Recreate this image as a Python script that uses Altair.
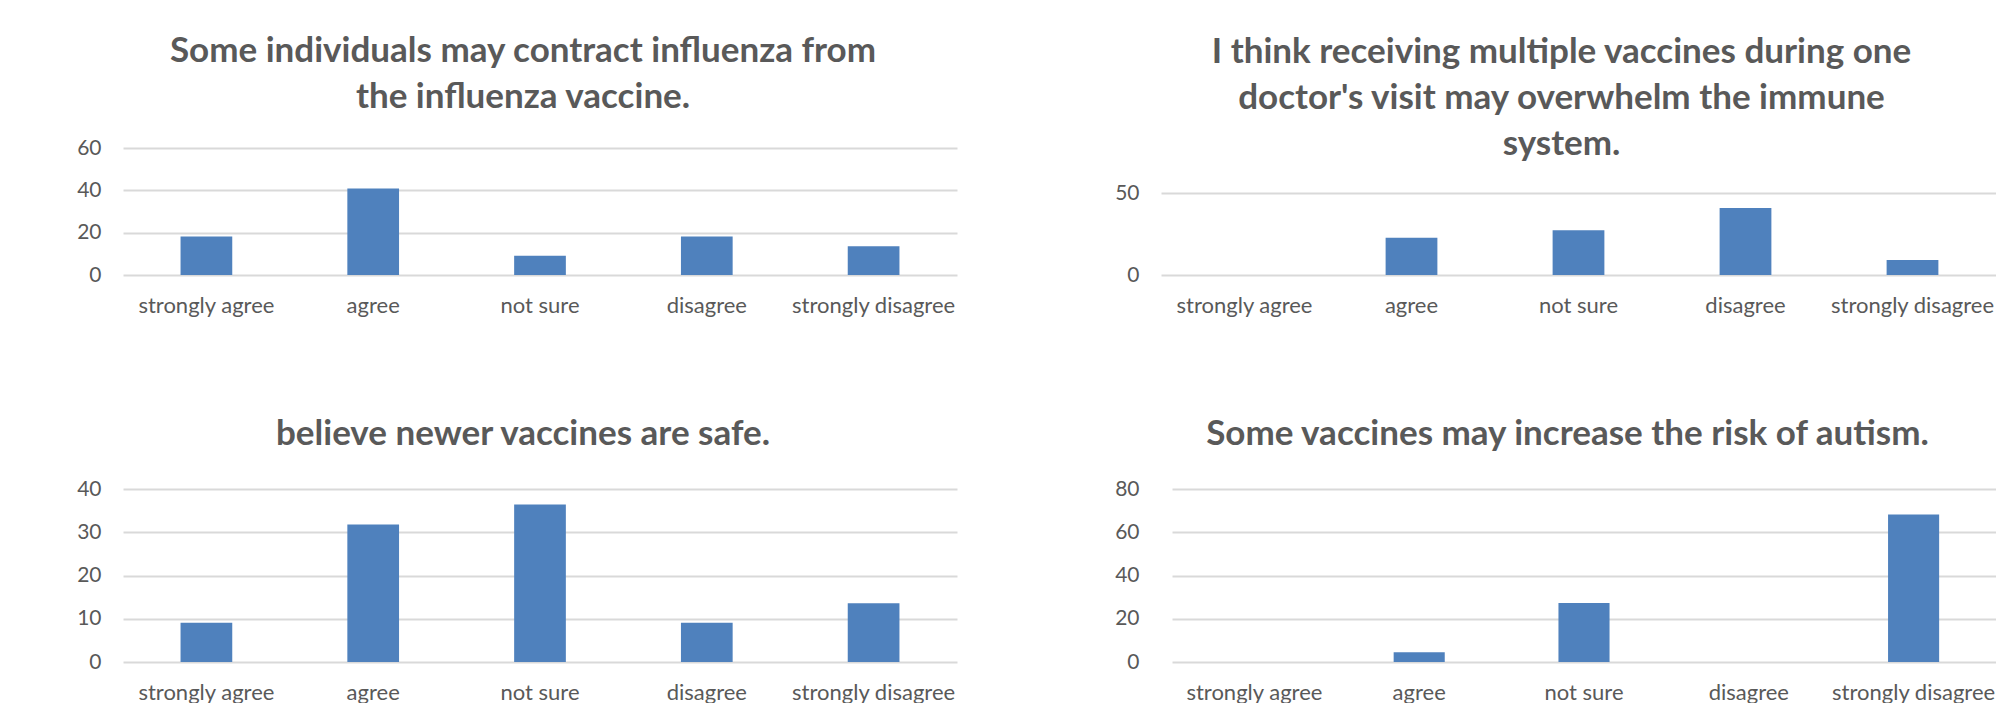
import altair as alt
import pandas as pd

categories = ["strongly agree", "agree", "not sure", "disagree", "strongly disagree"]

values_flu = [18.2, 40.9, 9.1, 18.2, 13.6]
values_multi = [0.0, 22.7, 27.3, 40.9, 9.1]
values_newer = [9.1, 31.8, 36.4, 9.1, 13.6]
values_autism = [0.0, 4.5, 27.3, 0.0, 68.2]

title_flu = ["Some individuals may contract influenza from", "the influenza vaccine."]
title_multi = ["I think receiving multiple vaccines during one",
               "doctor's visit may overwhelm the immune", "system."]
title_newer = ["believe newer vaccines are safe."]
title_autism = ["Some vaccines may increase the risk of autism."]

ticks_flu = [0, 20, 40, 60]
ticks_multi = [0, 50]
ticks_newer = [0, 10, 20, 30, 40]
ticks_autism = [0, 20, 40, 60, 80]

BAR = "#4F81BD"
TEXT = "#595959"
GRID = "#D9D9D9"
FONT = "Lato"


def panel(values, title, ticks, width, height, ymax=None, x_range=None,
          title_dx=-17, title_dy=0, title_offset=22):
    df = pd.DataFrame({"category": categories, "value": values})
    xscale = dict(paddingInner=0.69, paddingOuter=0.345)
    if x_range is not None:
        xscale["range"] = x_range
    return alt.Chart(df).mark_bar(color=BAR).encode(
        x=alt.X("category:N", sort=categories, title=None,
                scale=alt.Scale(**xscale),
                axis=alt.Axis(labelAngle=0, labelPadding=20, ticks=False, tickSize=0,
                              domain=False, grid=False, labelFontSize=22)),
        y=alt.Y("value:Q", title=None,
                scale=alt.Scale(domain=[0, ymax if ymax else ticks[-1]], nice=False),
                axis=alt.Axis(values=ticks, labelPadding=22, ticks=False, tickSize=0,
                              domain=False, grid=True, gridColor=GRID, gridWidth=2,
                              labelFontSize=21)),
    ).properties(
        width=width, height=height,
        title=alt.TitleParams(text=title, anchor="middle", frame="group",
                              dx=title_dx, dy=title_dy, offset=title_offset),
    )


p1 = panel(values_flu, title_flu, ticks_flu, 834, 127)
# top row panels share the plot top; the 0-50 range fills the lower 82 px
p2 = panel(values_multi, title_multi, ticks_multi, 835, 127, ymax=50 * 127 / 82,
           title_dy=36)
p3 = panel(values_newer, title_newer, ticks_newer, 834, 173, title_offset=26)
p4 = panel(values_autism, title_autism, ticks_autism, 835, 173, x_range=[11, 835],
           title_dx=-11, title_offset=26)

chart = alt.concat(p1, p2, p3, p4, columns=2, bounds="flush",
                   spacing={"row": 214, "column": 204}).properties(
    padding={"left": 68, "top": 26, "right": 0, "bottom": 0}
).configure_view(stroke=None).configure_axis(
    labelFont=FONT, labelColor=TEXT
).configure_title(
    font=FONT, fontSize=35, fontWeight="bold", color=TEXT, lineHeight=46
)

chart.save("out.html", embed_options={"renderer": "svg", "actions": False})
